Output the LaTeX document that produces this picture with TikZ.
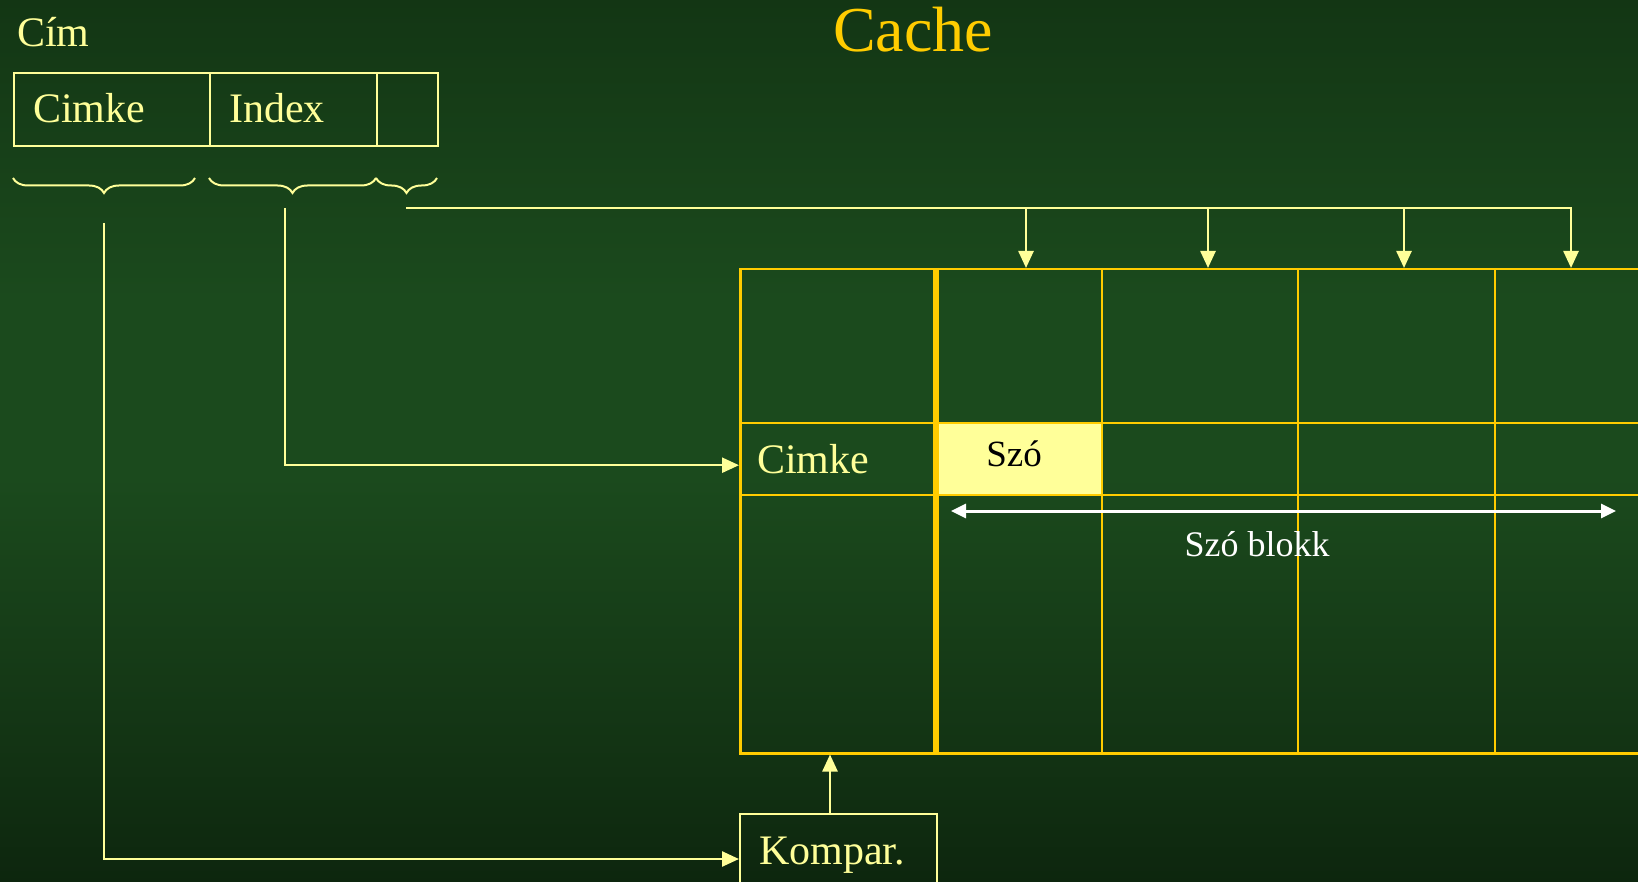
\documentclass[tikz,border=0pt]{standalone}
\usepackage{fontspec}
\setmainfont{Liberation Serif}
\usetikzlibrary{arrows.meta,decorations.pathreplacing,calc}
\definecolor{bgtop}{RGB}{19,54,20}
\definecolor{bgmid}{RGB}{27,74,29}
\definecolor{bglow}{RGB}{19,52,20}
\definecolor{bgbot}{RGB}{13,38,14}
\definecolor{ly}{RGB}{255,255,153}
\definecolor{gold}{RGB}{255,204,0}
\pgfdeclareverticalshading{bgshade}{100bp}{color(0bp)=(bgbot); color(25bp)=(bgbot); color(33bp)=(bglow); color(48bp)=(bgmid); color(58bp)=(bgmid); color(75bp)=(bgtop); color(100bp)=(bgtop)}
\begin{document}
\begin{tikzpicture}[x=1pt,y=-1pt,
  txt/.style={text=ly,font=\fontsize{42}{48}\selectfont,inner sep=0pt,anchor=base west},
  abox/.style={draw=ly,line width=2pt,anchor=north west,inner sep=0pt,minimum height=73pt},
  yl/.style={draw=ly,line width=2.5pt},
  arr/.style={yl,-{Triangle[length=17pt,width=15pt]}},
  gline/.style={draw=gold,line width=2.5pt},
  brc/.style={draw=ly,line width=2pt,decorate,decoration={brace,mirror,amplitude=15pt}},
  cell/.style={anchor=north west,inner sep=0pt,minimum height=72pt},
]
\useasboundingbox (0,0) rectangle (1638,882);
\clip (0,0) rectangle (1638,882);
\shade[shading=bgshade] (0,0) rectangle (1638,882);

% title
\node[text=gold,font=\fontsize{64}{70}\selectfont,inner sep=0pt,anchor=base] (title) at (913,52) {Cache};

% address
\node[txt] (cimlbl) at (17,47) {Cím};
\node[abox,minimum width=196pt] (atag) at (13,72) {};
\node[abox,minimum width=167pt] (aidx) at (209,72) {};
\node[abox,minimum width=61pt] (aoff) at (376,72) {};
\node[txt] (atagt) at (33,123) {Cimke};
\node[txt] (aidxt) at (229,123) {Index};

% braces
\draw[brc] (13,178) -- (195,178);
\draw[brc] (209,178) -- (376,178);
\draw[brc] (376,178) -- (437,178);
\coordinate (ctag) at (104,223);
\coordinate (cidx) at (285,208);
\coordinate (coff) at (406,208);

% cache grid
\node[cell,fill=ly,minimum width=166pt] (word) at (936,423) {};
\node[draw=gold,line width=2.5pt,anchor=north west,inner sep=0pt,minimum width=1000pt,minimum height=484pt] (grid) at (739,268) {};
\draw[gline] (739,423) -- (1700,423);
\draw[gline] (739,495) -- (1700,495);
\draw[draw=gold,line width=2pt] (1102,268) -- (1102,752);
\draw[gline] (1298,268) -- (1298,752);
\draw[draw=gold,line width=2pt] (1495,268) -- (1495,752);
\draw[draw=gold,line width=6pt] (936,268) -- (936,752);
\node[cell,minimum width=197pt] (tagcell) at (739,423) {};
\node[txt] (tagt) at (757,473) {Cimke};
\node[font=\fontsize{37}{40}\selectfont,text=black,inner sep=0pt,anchor=base] (szo) at (1014,466) {Szó};

% word block arrow
\coordinate (sb1) at (951,511);
\coordinate (sb2) at (1616,511);
\draw[white,line width=3pt,{Triangle[length=15pt,width=14pt]}-{Triangle[length=15pt,width=14pt]}] (sb1) -- (sb2);
\node[text=white,font=\fontsize{36}{40}\selectfont,inner sep=0pt,anchor=base] (szob) at (1257,556) {Szó blokk};

% comparator
\node[abox,minimum width=197pt,minimum height=90pt] (kompar) at (739,813) {};
\node[txt] (kompt) at (759,864) {Kompar.};

% connectors
\coordinate (t1) at (1026,268);
\coordinate (t2) at (1208,268);
\coordinate (t3) at (1404,268);
\coordinate (t4) at (1571,268);
\draw[arr] (ctag) |- (kompar.west);
\draw[arr] (cidx) |- ($(tagcell.west)+(0,6)$);
\draw[arr] (coff) -| (t4);
\draw[arr] (t1 |- coff) -- (t1);
\draw[arr] (t2 |- coff) -- (t2);
\draw[arr] (t3 |- coff) -- (t3);
\coordinate (kup) at ($(kompar.north)+(-8.5,0)$);
\draw[arr] (kup) -- (kup |- grid.south);
\end{tikzpicture}
\end{document}
